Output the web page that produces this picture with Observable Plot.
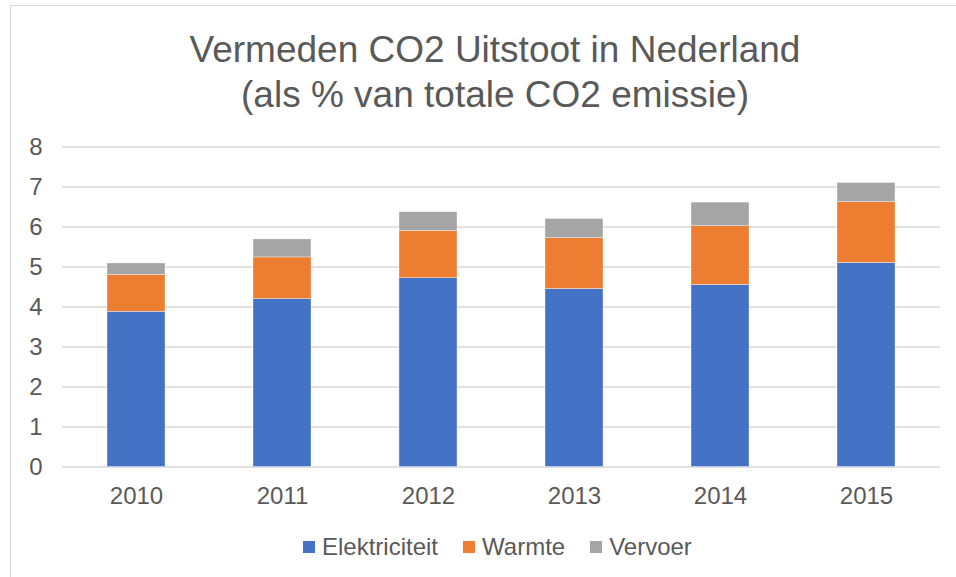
<!DOCTYPE html>
<html>
<head>
<meta charset="utf-8">
<script src="https://cdn.jsdelivr.net/npm/d3@7"></script>
<script src="https://cdn.jsdelivr.net/npm/@observablehq/plot@0.6"></script>
<style>
  html, body { margin: 0; padding: 0; background: #fff; overflow: hidden; }
  #wrap { position: relative; width: 956px; height: 577px; font-family: "Liberation Sans", Arial, sans-serif; color: #595959; overflow: hidden; }
  #frame { position: absolute; left: 10px; top: 5px; width: 1000px; height: 1000px; border: 1.5px solid #d9d9d9; }
  #title { position: absolute; left: 0; width: 990px; top: 27px; text-align: center; font-size: 37px; line-height: 45px; }
  #chart { position: absolute; left: 0; top: 0; }
  #legend { position: absolute; top: 533px; height: 28px; left: 303px; display: flex; align-items: center; font-size: 24px; white-space: nowrap; }
  .item { display: flex; align-items: center; margin-right: 25px; }
  .sw { width: 12px; height: 12px; margin-right: 7px; }
</style>
</head>
<body>
<div id="wrap">
  <div id="frame"></div>
  <div id="title">Vermeden CO2 Uitstoot in Nederland<br>(als % van totale CO2 emissie)</div>
  <div id="chart"></div>
  <div id="legend"></div>
</div>
<script>
const years = ["2010", "2011", "2012", "2013", "2014", "2015"];
const series = ["Elektriciteit", "Warmte", "Vervoer"];
const colors = ["#4472C4", "#ED7D31", "#A5A5A5"];
const elektriciteit = [3.88, 4.20, 4.72, 4.45, 4.55, 5.10];
const warmte = [0.92, 1.04, 1.18, 1.27, 1.47, 1.52];
const vervoer = [0.29, 0.45, 0.47, 0.48, 0.59, 0.48];
const yTicks = [0, 1, 2, 3, 4, 5, 6, 7, 8];

const values = [elektriciteit, warmte, vervoer];
const data = [];
series.forEach((s, i) => years.forEach((y, j) => data.push({year: y, series: s, value: values[i][j]})));

const chart = Plot.plot({
  width: 956,
  height: 577,
  marginTop: 146.5,
  marginBottom: 110.5,
  marginLeft: 62,
  marginRight: 16,
  style: {fontFamily: "'Liberation Sans', Arial, sans-serif", fontSize: "24px", color: "#595959", background: "transparent"},
  x: {domain: years, paddingInner: 0.6, paddingOuter: 0.3, label: null},
  y: {domain: [0, 8], label: null},
  color: {domain: series, range: colors},
  marks: [
    Plot.ruleY(yTicks, {stroke: "#d9d9d9", strokeWidth: 1.5}),
    Plot.barY(data, {x: "year", y: "value", fill: "series", order: series, stroke: "#ffffff", strokeWidth: 0.6, strokeOpacity: 0.6}),
    Plot.axisY(yTicks, {tickSize: 0, tickPadding: 20, fontSize: 24, fill: "#595959", label: null}),
    Plot.axisX({tickSize: 0, tickPadding: 20, fontSize: 24, fill: "#595959", label: null})
  ]
});
document.getElementById("chart").appendChild(chart);

const legend = document.getElementById("legend");
series.forEach((s, i) => {
  const it = document.createElement("div");
  it.className = "item";
  const sw = document.createElement("div");
  sw.className = "sw";
  sw.style.background = colors[i];
  const t = document.createElement("span");
  t.textContent = s;
  it.appendChild(sw);
  it.appendChild(t);
  legend.appendChild(it);
});
</script>
</body>
</html>
